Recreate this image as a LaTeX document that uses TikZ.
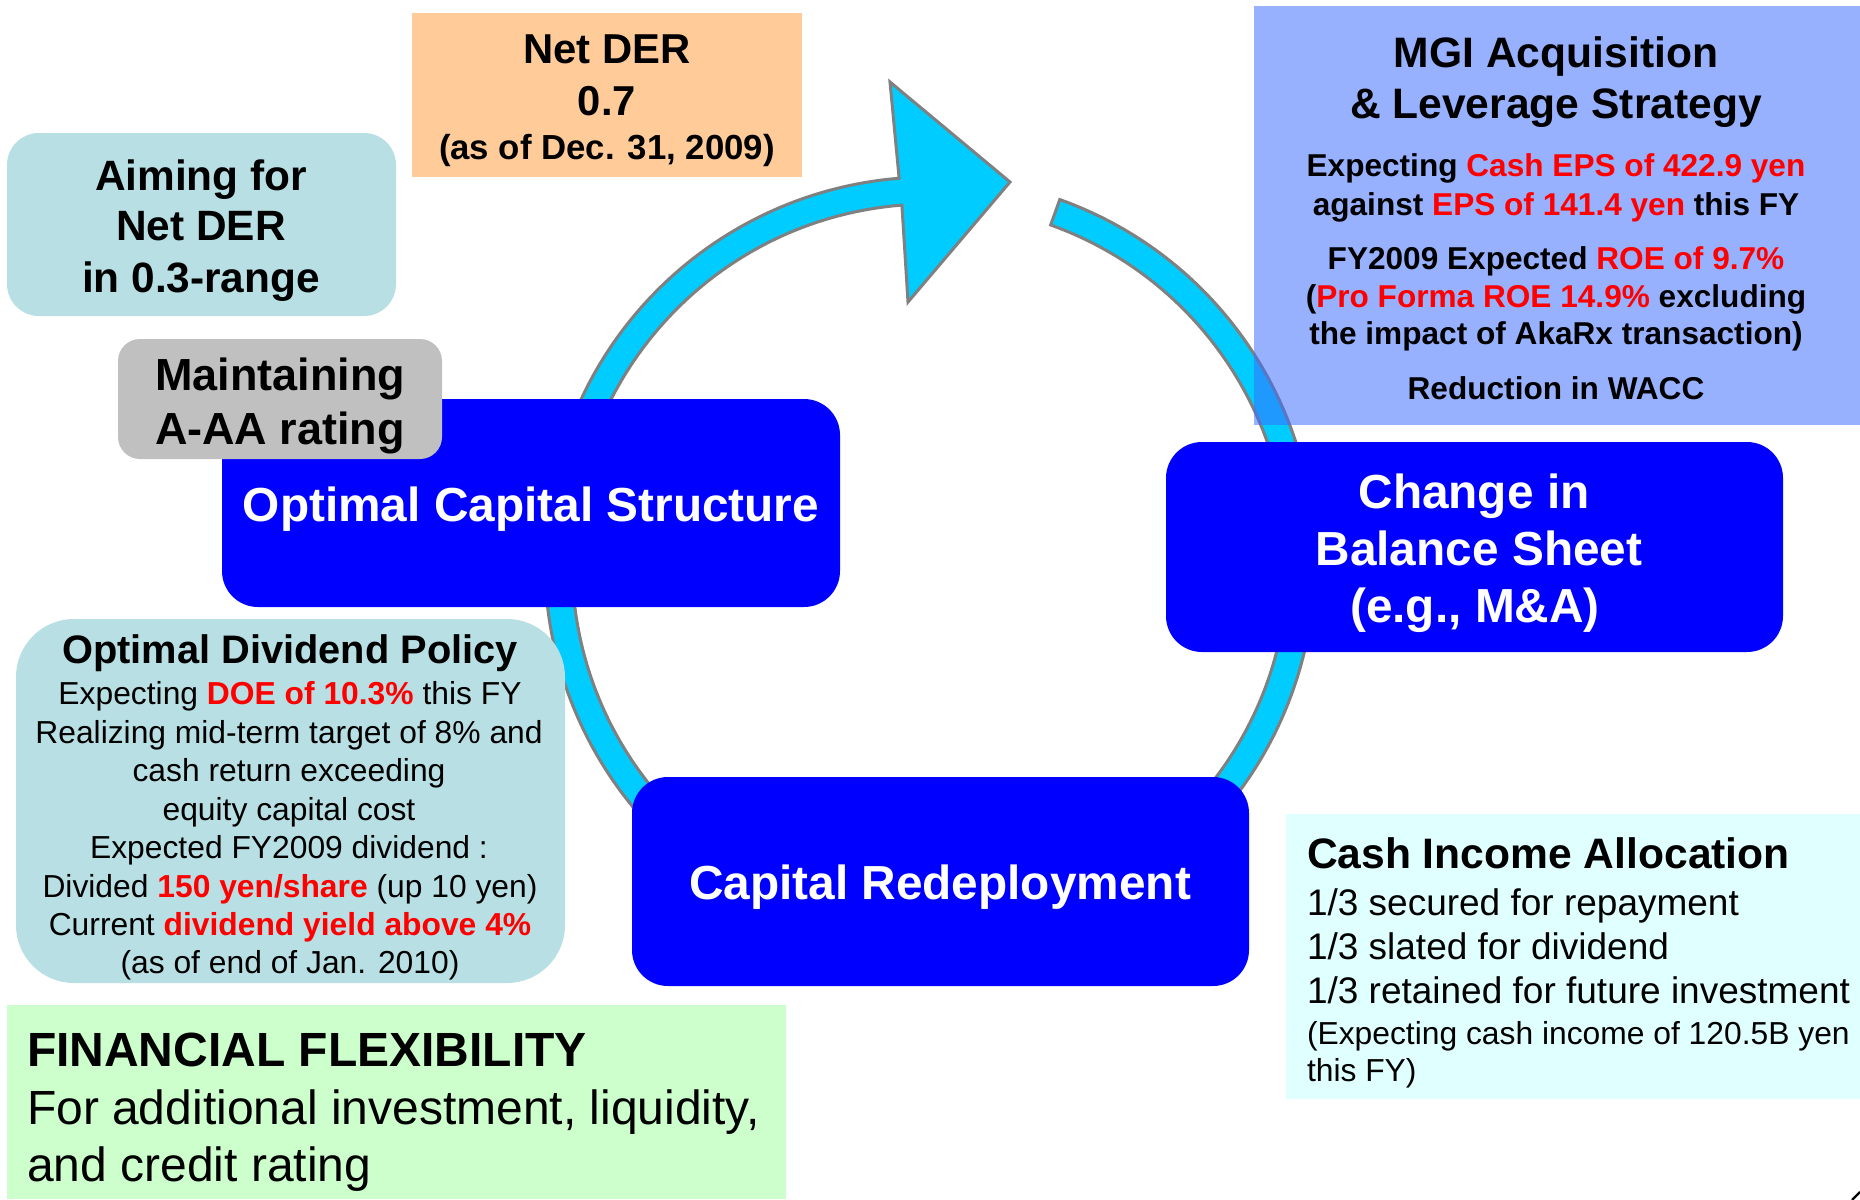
\documentclass[tikz,border=0pt]{standalone}
\usepackage{fontspec}
\setmainfont{Liberation Sans}
\definecolor{ringc}{RGB}{0,204,255}
\definecolor{ringo}{RGB}{128,128,128}
\definecolor{tealbox}{RGB}{184,223,227}
\definecolor{peach}{RGB}{255,204,153}
\definecolor{greyb}{RGB}{192,192,192}
\definecolor{mgib}{RGB}{61,108,255}
\definecolor{boxblue}{RGB}{0,0,255}
\definecolor{greenb}{RGB}{204,255,204}
\definecolor{cyanb}{RGB}{224,255,255}
\begin{document}
\begin{tikzpicture}[x=0.5pt,y=-0.5pt,
  box/.style={inner sep=0pt, outer sep=0pt, draw=none},
  bluebox/.style={box, fill=boxblue, rounded corners=18pt},
  tl/.style={inner sep=0pt, outer sep=0pt, anchor=base},
  tlw/.style={tl, anchor=base west},
  ringstyle/.style={fill=ringc, draw=ringo, line width=1.5pt},
  fAim/.style={font=\fontsize{21.2}{25}\selectfont\bfseries},
  fNet/.style={font=\fontsize{20.9}{25}\selectfont\bfseries},
  fNetS/.style={font=\fontsize{17.4}{21}\selectfont\bfseries},
  fMaint/.style={font=\fontsize{22.5}{27}\selectfont\bfseries},
  fBig/.style={font=\fontsize{23.9}{28}\selectfont\bfseries, text=white},
  fTitle/.style={font=\fontsize{21.3}{25}\selectfont\bfseries},
  fMgi/.style={font=\fontsize{15.8}{19}\selectfont\bfseries},
  fDivT/.style={font=\fontsize{19.9}{24}\selectfont\bfseries},
  fDiv/.style={font=\fontsize{15.9}{19}\selectfont},
  fFinB/.style={font=\fontsize{24}{28}\selectfont\bfseries},
  fFin/.style={font=\fontsize{24}{28}\selectfont},
  fCash/.style={font=\fontsize{18.5}{22}\selectfont},
  fCashS/.style={font=\fontsize{15.9}{19}\selectfont}
]
\useasboundingbox (0,0) rectangle (1860,1200);
\fill[white] (0,0) rectangle (1860,1200);

% circular arrow
\begin{scope}[shift={(930,562)}, y=0.5pt]
  \draw[ringstyle] (70.3:385) arc[start angle=70.3, end angle=-265.4, radius=385]
    -- (-40,480) -- (80,380) -- (-22,260)
    -- (94.5:358) arc[start angle=-265.5, end angle=70.3, radius=358] -- cycle;
\end{scope}

% MGI box (semi-transparent)
\node[box, fill=mgib, fill opacity=0.53, minimum width=303pt, minimum height=209.5pt] (mgi) at (1557,215.5) {};
\node[tl, fTitle] (mgi-t1) at (1556,67) {MGI Acquisition};
\node[tl, fTitle] (mgi-t2) at (1556,118) {\& Leverage Strategy};
\node[tl, fMgi] (mgi-l1) at (1556,176.5) {Expecting \textcolor{red}{Cash EPS of 422.9 yen}};
\node[tl, fMgi] (mgi-l2) at (1556,215) {against \textcolor{red}{EPS of 141.4 yen} this FY};
\node[tl, fMgi] (mgi-l3) at (1556,269.5) {FY2009 Expected \textcolor{red}{ROE of 9.7\%}};
\node[tl, fMgi] (mgi-l4) at (1556,307) {(\textcolor{red}{Pro Forma ROE 14.9\%} excluding};
\node[tl, fMgi] (mgi-l5) at (1556,344.5) {the impact of AkaRx transaction)};
\node[tl, fMgi] (mgi-l6) at (1556,399.5) {Reduction in WACC};

% Net DER box
\node[box, fill=peach, minimum width=195pt, minimum height=82pt] (netder) at (607,95) {};
\node[tl, fNet] (netder-t1) at (607,63.5) {Net DER};
\node[tl, fNet] (netder-t2) at (607,115.5) {0.7};
\node[tl, fNetS] (netder-t3) at (607,159) {(as of Dec. 31, 2009)};

% Aiming box
\node[box, fill=tealbox, rounded corners=16pt, minimum width=194.5pt, minimum height=91.5pt] (aim) at (201.5,224.5) {};
\node[tl, fAim] (aim-t1) at (201,190) {Aiming for};
\node[tl, fAim] (aim-t2) at (201,240.5) {Net DER};
\node[tl, fAim] (aim-t3) at (201,292) {in 0.3-range};

% Optimal Capital Structure
\node[bluebox, minimum width=309pt, minimum height=104pt] (ocs) at (531,503) {};
\node[tl, fBig] (ocs-t) at (531,521) {Optimal Capital Structure};

% Maintaining box
\node[box, fill=greyb, rounded corners=11pt, minimum width=162pt, minimum height=60pt] (maint) at (280,399) {};
\node[tl, fMaint] (maint-t1) at (280,390.5) {Maintaining};
\node[tl, fMaint] (maint-t2) at (280,444) {A-AA rating};

% Change in Balance Sheet
\node[bluebox, minimum width=308.5pt, minimum height=105pt] (change) at (1474.5,547) {};
\node[tl, fBig] (change-t1) at (1474,508.5) {Change in};
\node[tl, fBig] (change-t2) at (1479,565) {Balance Sheet};
\node[tl, fBig] (change-t3) at (1475,622) {(e.g., M\&A)};

% Optimal Dividend Policy
\node[box, fill=tealbox, rounded corners=29pt, minimum width=274.5pt, minimum height=182pt] (div) at (290.5,801) {};
\node[tl, fDivT] (div-t) at (290,663.5) {Optimal Dividend Policy};
\node[tl, fDiv] (div-l1) at (290,704.5) {Expecting \textcolor{red}{\bfseries DOE of 10.3\%} this FY};
\node[tl, fDiv] (div-l2) at (289,743) {Realizing mid-term target of 8\% and};
\node[tl, fDiv] (div-l3) at (289,781.5) {cash return exceeding};
\node[tl, fDiv] (div-l4) at (289,820) {equity capital cost};
\node[tl, fDiv] (div-l5) at (289,858.5) {Expected FY2009 dividend :};
\node[tl, fDiv] (div-l6) at (290,897) {Divided \textcolor{red}{\bfseries 150 yen/share} (up 10 yen)};
\node[tl, fDiv] (div-l7) at (290,935) {Current \textcolor{red}{\bfseries dividend yield above 4\%}};
\node[tl, fDiv] (div-l8) at (290,973) {(as of end of Jan. 2010)};

% Capital Redeployment
\node[bluebox, minimum width=308.5pt, minimum height=104.5pt] (capred) at (940.5,881.5) {};
\node[tl, fBig] (capred-t) at (940,899) {Capital Redeployment};

% Financial flexibility
\node[box, fill=greenb, minimum width=389.5pt, minimum height=97pt] (fin) at (396.5,1102) {};
\node[tlw, fFinB] (fin-t) at (27,1066.5) {FINANCIAL FLEXIBILITY};
\node[tlw, fFin] (fin-l1) at (27,1124) {For additional investment, liquidity,};
\node[tlw, fFin] (fin-l2) at (27,1181.5) {and credit rating};

% Cash Income Allocation
\node[box, fill=cyanb, minimum width=287pt, minimum height=142.5pt] (cash) at (1573,956.5) {};
\node[tlw, fTitle] (cash-t) at (1307,868) {Cash Income Allocation};
\node[tlw, fCash] (cash-l1) at (1307,915) {1/3 secured for repayment};
\node[tlw, fCash] (cash-l2) at (1307,959) {1/3 slated for dividend};
\node[tlw, fCash] (cash-l3) at (1307,1003.5) {1/3 retained for future investment};
\node[tlw, fCashS] (cash-l4) at (1307,1044) {(Expecting cash income of 120.5B yen};
\node[tlw, fCashS] (cash-l5) at (1307,1081) {this FY)};

% tiny corner mark
\coordinate (mk1) at (1852,1200);
\coordinate (mk2) at (1860,1192);
\draw[line width=1.2pt] (mk1) -- (mk2);
\end{tikzpicture}
\end{document}
